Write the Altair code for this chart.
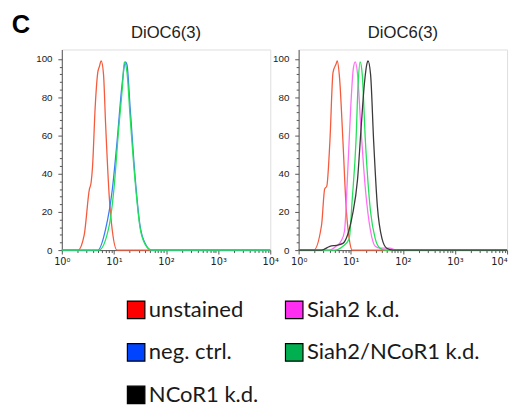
import altair as alt
import pandas as pd

# ---- data (fluorescence intensity, % of max) ----
unstained_L_x = [1, 2.04, 2.69, 3.39, 3.63, 3.89, 4.37, 4.90, 5.25, 5.69, 6.31, 6.92, 8.13, 9.33, 11.5, 10000]
unstained_L_y = [0, 0, 8, 32, 35, 44, 75, 93, 96, 99, 92, 66, 28, 10, 0, 0]
negctrl_L_x = [1, 4.9, 6.92, 9.33, 11.5, 14.5, 16.6, 17.8, 20.4, 25.7, 31.6, 39.8, 52.5, 10000]
negctrl_L_y = [0, 0, 11, 32, 57, 88, 98.5, 97, 75, 37, 13, 3.5, 0, 0]
siahncor_L_x = [1, 5.13, 8.13, 10.0, 12.3, 14.5, 15.8, 17.8, 20.4, 25.7, 31.6, 39.8, 52.5, 10000]
siahncor_L_y = [0, 0, 13, 32, 63, 85, 98.5, 93, 70, 35, 12, 3, 0, 0]

unstained_R_x = [1, 1.95, 2.75, 3.16, 3.47, 3.98, 4.57, 5.25, 5.50, 6.10, 7.08, 8.13, 9.33, 10.7, 10000]
unstained_R_y = [0, 0, 13, 32, 33.5, 57, 93, 97.5, 99, 90, 57, 23, 6, 0, 0]
siah2_R_x = [1, 3.80, 5.25, 6.61, 7.59, 8.71, 10.0, 11.2, 12.2, 13.5, 15.5, 19.1, 24.0, 29.5, 36.3, 56.2, 74.1, 10000]
siah2_R_y = [0, 0, 2, 5, 10, 40, 75, 95, 98.5, 92, 66, 32, 10, 2, 1, 1, 0, 0]
siahncor_R_x = [1, 4.90, 7.08, 9.33, 10.7, 12.6, 13.8, 15.1, 16.6, 19.1, 24.0, 29.5, 36.3, 45.7, 10000]
siahncor_R_y = [0, 0, 2, 6, 27, 57, 86, 98.5, 92, 57, 20, 6, 1, 0, 0]
ncor_R_x = [1, 2.75, 3.98, 5.25, 7.08, 8.71, 10.7, 13.5, 15.8, 18.4, 20.4, 21.4, 24.0, 27.5, 32.4, 39.8, 49.0, 64.6, 10000]
ncor_R_y = [0, 0, 2, 2.5, 3.5, 8, 18, 37, 64, 88, 97.5, 99, 92, 57, 23, 6, 1, 0, 0]

panel_title = "DiOC6(3)"
figure_label = "C"
x_ticks = [1, 2, 3, 4, 5, 6, 7, 8, 9, 10, 20, 30, 40, 50, 60, 70, 80, 90,
           100, 200, 300, 400, 500, 600, 700, 800, 900,
           1000, 2000, 3000, 4000, 5000, 6000, 7000, 8000, 9000, 10000]
y_ticks = list(range(0, 101, 4))

legend_labels = ["unstained", "Siah2 k.d.", "neg. ctrl.", "Siah2/NCoR1 k.d.", "NCoR1 k.d."]
legend_cols = [0, 1, 0, 1, 0]
legend_rows = [0, 0, 1, 1, 2]
legend_colors = ["#ff0000", "#ff2ef0", "#0044ff", "#00b050", "#000000"]

C_RED, C_BLUE, C_GREEN, C_PINK, C_BLACK = "#f55a3c", "#3b7cf5", "#22e258", "#ff70f5", "#3a3a3a"

FONT = "Liberation Sans"
DEC = "abs(log(datum.value)/LN10 - round(log(datum.value)/LN10)) < 0.001"
SUP = "['\u2070','\u00b9','\u00b2','\u00b3','\u2074'][round(log(datum.value)/LN10)]"


def make_panel(series, right=False):
    label_align = {"condition": {"test": "datum.value >= 10000", "value": "right"}, "value": "center"} if right else "center"
    x_axis = alt.Axis(values=x_ticks, labelExpr=f"{DEC} ? '10' + {SUP} : ''",
                      tickSize={"condition": {"test": DEC, "value": 4}, "value": 2.5},
                      labelOverlap=False, grid=False, title=None, labelFont="DejaVu Sans",
                      labelFontSize=10, labelColor="#222", labelAlign=label_align,
                      domainColor="#555", tickColor="#555", labelPadding=3)
    y_axis = alt.Axis(values=y_ticks, labelExpr="datum.value % 20 == 0 ? datum.label : ''",
                      tickSize={"condition": {"test": "datum.value % 20 == 0", "value": 4}, "value": 2.5},
                      labelOverlap=False, grid=False, labelFont=FONT, labelFontSize=10, title=None,
                      labelColor="#222", domainColor="#555", tickColor="#555", labelPadding=6)
    x_enc = alt.X("x:Q", scale=alt.Scale(type="log", domain=[1, 10000], nice=False), axis=x_axis)
    y_enc = alt.Y("y:Q", scale=alt.Scale(domain=[0, 105], nice=False), axis=y_axis)
    layers = []
    for xs, ys, col in series:
        df = pd.DataFrame({"x": xs, "y": ys})
        layers.append(alt.Chart(df).mark_line(color=col, strokeWidth=1.3, interpolate="monotone")
                      .encode(x=x_enc, y=y_enc))
    return alt.layer(*layers).properties(
        width=213, height=205,
        title=alt.TitleParams(panel_title, fontSize=17, font=FONT, fontWeight="normal",
                              color="#222", offset=8, frame="group"))


left = make_panel([(unstained_L_x, unstained_L_y, C_RED),
                   (negctrl_L_x, negctrl_L_y, C_BLUE),
                   (siahncor_L_x, siahncor_L_y, C_GREEN)])
right = make_panel([(unstained_R_x, unstained_R_y, C_RED),
                    (siah2_R_x, siah2_R_y, C_PINK),
                    (siahncor_R_x, siahncor_R_y, C_GREEN),
                    (ncor_R_x, ncor_R_y, C_BLACK)], right=True)

panels = alt.hconcat(left, right, spacing=29, bounds="flush")

leg_df = pd.DataFrame({"label": legend_labels, "col": legend_cols, "row": legend_rows})
lx = alt.X("col:Q", scale=alt.Scale(domain=[-0.47, 1.387], nice=False, zero=False), axis=None)
ly = alt.Y("row:Q", scale=alt.Scale(domain=[0, 2], reverse=True, nice=False), axis=None)
squares = alt.Chart(leg_df).mark_square(size=320, stroke="black", strokeWidth=1.2, opacity=1).encode(
    x=lx, y=ly,
    fill=alt.Fill("label:N", scale=alt.Scale(domain=legend_labels, range=legend_colors), legend=None))
texts = alt.Chart(leg_df).mark_text(align="left", baseline="middle", dx=13, fontSize=22.5,
                                    font="Lato", color="#1a1a1a").encode(x=lx, y=ly, text="label:N")
legend = alt.layer(squares, texts).properties(width=300, height=87, view=alt.ViewBackground(stroke=None))

chart = alt.vconcat(panels, legend, spacing=31).properties(
    title=alt.TitleParams(figure_label, anchor="start", fontSize=26, font=FONT, fontWeight="bold",
                          color="#000", offset=-15, dx=-24),
    padding={"left": 3, "top": 0, "right": 0, "bottom": 0}
).configure_view(stroke="#9a9a9a", strokeWidth=1).configure(background="white")

chart.save("out.html", embed_options={"renderer": "svg", "actions": False})
